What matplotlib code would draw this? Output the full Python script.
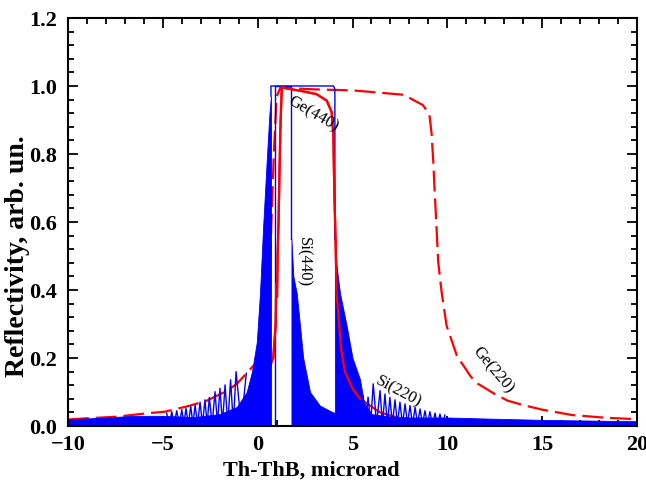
import matplotlib
matplotlib.use('Agg')
import matplotlib.pyplot as plt
from matplotlib.ticker import MultipleLocator, FormatStrFormatter

plt.rcParams['font.family'] = ['Liberation Serif', 'DejaVu Serif']
plt.rcParams['lines.scale_dashes'] = False

# Ge(220) reflection curve (dashed)
ge220_x = [-10, -8.9, -7.5, -5.9, -4.9, -3.7, -2.7, -1.6, -1.1, -0.67, -0.14, 0.3, 0.6, 0.85, 1.0, 1.2,
           3.0, 5.0, 6.5, 7.7, 8.7, 9.05, 9.17, 9.26, 9.3, 9.52, 9.7, 9.96, 10.5, 11.2, 11.5, 12.5,
           13.2, 14.1, 15.0, 16.6, 18.4, 20]
ge220_y = [0.019, 0.023, 0.027, 0.037, 0.042, 0.058, 0.074, 0.104, 0.124, 0.15, 0.182, 0.24, 0.4, 0.8, 0.97, 0.995,
           0.99, 0.987, 0.98, 0.974, 0.944, 0.918, 0.859, 0.776, 0.726, 0.481, 0.393, 0.295, 0.207, 0.148, 0.128, 0.094,
           0.074, 0.06, 0.048, 0.032, 0.024, 0.02]

# Ge(440) reflection curve (solid)
ge440_x = [-10, -5, -3, -2, -1, -0.5, 0.0, 0.5, 0.82, 0.95, 0.98, 1.02, 1.05, 1.1, 1.15, 1.2, 1.27,
           1.5, 2.23, 3.1, 3.64, 3.9, 3.99, 4.04, 4.11, 4.16, 4.3, 4.4, 4.6, 5.0, 5.4, 6.45, 7.5, 10, 15, 20]
ge440_y = [0.008, 0.012, 0.016, 0.02, 0.035, 0.05, 0.09, 0.15, 0.2, 0.3, 0.42, 0.38, 0.5, 0.6, 0.75, 0.88, 0.997,
           0.993, 0.986, 0.976, 0.957, 0.923, 0.854, 0.688, 0.54, 0.39, 0.295, 0.226, 0.16, 0.11, 0.08, 0.04, 0.023,
           0.012, 0.007, 0.005]

# Si(220): flat top, dense tails and resolved side oscillations
si220_top_x = [0.70, 0.70, 4.0, 4.07, 4.07]
si220_top_y = [0.97, 1.0, 1.0, 0.99, 0.55]
si220_left_x = [-10, -8.3, -6.5, -5.0, -3.4, -2.0, -1.1, -0.58, -0.3, -0.05, 0.12, 0.29, 0.48, 0.62, 0.70]
si220_left_y = [0.02, 0.024, 0.03, 0.03, 0.026, 0.035, 0.056, 0.1, 0.16, 0.246, 0.39, 0.59, 0.785, 0.92, 0.97]
si220_right_x = [4.07, 4.16, 4.34, 4.69, 5.0, 5.39, 5.6, 6.0, 7.0, 8.0, 10.0, 12.0, 15.0, 20.0]
si220_right_y = [0.55, 0.47, 0.39, 0.295, 0.2, 0.138, 0.07, 0.035, 0.028, 0.025, 0.025, 0.022, 0.018, 0.014]
left_pk_x = [-4.80, -4.53, -4.27, -4.00, -3.78, -3.53, -3.30, -3.04, -2.78, -2.55, -2.25, -1.99, -1.72,
             -1.43, -1.14, -0.60]
left_pk_y = [0.038, 0.042, 0.045, 0.048, 0.052, 0.058, 0.062, 0.070, 0.077, 0.084, 0.101, 0.111, 0.121,
             0.136, 0.160, 0.155]
right_pk_x = [5.55, 5.82, 6.09, 6.45, 6.71, 6.97, 7.24, 7.50, 7.77, 8.03, 8.30, 8.56, 8.82, 9.08, 9.35,
              9.61, 9.87]
right_pk_y = [0.09, 0.085, 0.124, 0.104, 0.094, 0.084, 0.077, 0.070, 0.065, 0.060, 0.055, 0.050, 0.045,
              0.042, 0.038, 0.035, 0.032]

# Si(440): narrow top and dense right tail
si440_top_x = [0.9, 0.9, 1.78, 1.78]
si440_top_y = [0.0, 1.0, 1.0, 0.55]
si440_tail_x = [1.78, 1.88, 2.06, 2.23, 2.4, 2.76, 3.28, 3.97, 5.4, 8.0, 12.0, 20.0]
si440_tail_y = [0.55, 0.44, 0.39, 0.295, 0.2, 0.1, 0.06, 0.04, 0.03, 0.02, 0.015, 0.01]


def zigzag(px, py, base=0.005):
    xs, ys = [], []
    for i in range(len(px)):
        if i > 0:
            xs.append((px[i - 1] + px[i]) / 2)
            ys.append(base)
        xs.append(px[i])
        ys.append(py[i])
    return xs, ys


fig = plt.figure(figsize=(6.46, 4.89), dpi=100)
ax = fig.add_axes([0.1053, 0.1268, 0.8808, 0.8344])

blue = '#0000ff'
red = '#ff0000'

ax.fill_between(si220_left_x, 0, si220_left_y, color=blue, lw=0.6, zorder=2)
ax.fill_between(si220_right_x, 0, si220_right_y, color=blue, lw=0.6, zorder=2)
ax.fill_between(si440_tail_x, 0, si440_tail_y, color=blue, lw=0.6, zorder=2)
ax.plot(si220_top_x, si220_top_y, color=blue, lw=1.0, zorder=2)
ax.plot(si440_top_x, si440_top_y, color=blue, lw=1.0, zorder=2)
zx, zy = zigzag(left_pk_x, left_pk_y)
ax.plot(zx, zy, color=blue, lw=1.0, zorder=2)
zx, zy = zigzag(right_pk_x, right_pk_y)
ax.plot(zx, zy, color=blue, lw=1.0, zorder=2)

# Ge(440): tails sit under the blue, the central peak is drawn on top
ax.plot(ge440_x, ge440_y, color=red, lw=1.6, zorder=1.5)
ax.plot(ge440_x[8:31], ge440_y[8:31], color=red, lw=1.6, zorder=3)
ax.plot(ge220_x, ge220_y, color=red, lw=1.6, dashes=(15, 5), zorder=1.6)

lab = dict(fontsize=12, color='black', ha='center', va='center', zorder=5)
ax.text(2.92, 0.92, 'Ge(440)', rotation=-30, **lab)
ax.text(2.44, 0.485, 'Si(440)', rotation=-90, **lab)
ax.text(7.4, 0.103, 'Si(220)', rotation=-28, **lab)
ax.text(12.4, 0.168, 'Ge(220)', rotation=-50, **lab)

ax.set_xlim(-10, 20)
ax.set_ylim(0, 1.2)
ax.xaxis.set_major_locator(MultipleLocator(5))
ax.xaxis.set_minor_locator(MultipleLocator(1))
ax.yaxis.set_major_locator(MultipleLocator(0.2))
ax.yaxis.set_minor_locator(MultipleLocator(0.04))
ax.yaxis.set_major_formatter(FormatStrFormatter('%.1f'))
ax.tick_params(which='both', direction='in', top=True, right=True, width=1.3, labelsize=16)
ax.tick_params(which='major', length=7)
ax.tick_params(axis='x', which='major', pad=6)
ax.tick_params(axis='y', which='major', pad=8)
ax.tick_params(which='minor', length=4)
for lbl in ax.get_xticklabels() + ax.get_yticklabels():
    lbl.set_fontweight('bold')
for s in ax.spines.values():
    s.set_linewidth(1.5)

ax.set_xlabel('Th-ThB, microrad', fontsize=16, fontweight='bold')
ax.xaxis.set_label_coords(0.427, -0.083)
ax.set_ylabel('Reflectivity, arb. un.', fontsize=20, fontweight='bold')
ax.yaxis.set_label_coords(-0.066, 0.42)

plt.savefig('out.png', dpi=100)
